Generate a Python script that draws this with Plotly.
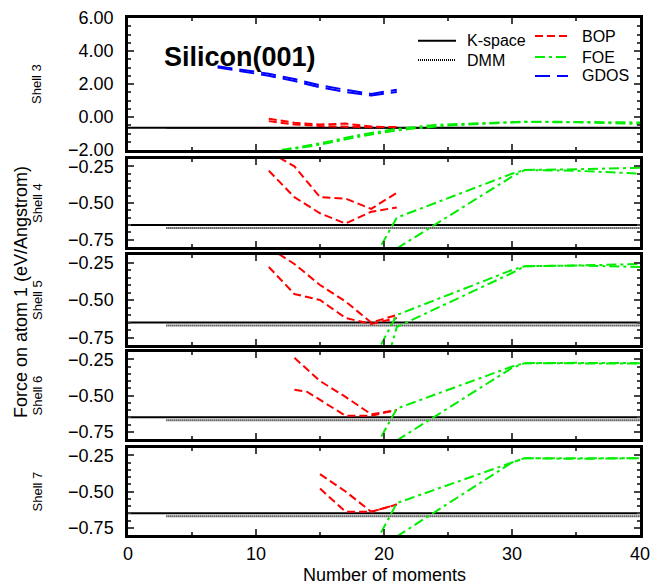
import plotly.graph_objects as go

# ---------------- data ----------------
shell_names = ["Shell 3", "Shell 4", "Shell 5", "Shell 6", "Shell 7"]

kspace_x = [0, 40]
kspace_force = [-0.65, -0.65]
dmm_x = [3, 40]
dmm_force = [-0.67, -0.67]

# Shell 3
gdos3_x = [7, 9, 11, 13, 15, 17, 19, 21]
gdos3_a = [3.08, 2.85, 2.62, 2.30, 1.92, 1.65, 1.40, 1.65]
gdos3_b = [3.00, 2.75, 2.50, 2.18, 1.80, 1.52, 1.30, 1.52]
bop3_xa = [11, 13, 15, 17, 19, 21]
bop3_a = [-0.10, -0.35, -0.45, -0.40, -0.58, -0.62]
bop3_xb = [11, 13, 15, 17, 19, 21]
bop3_b = [-0.25, -0.45, -0.55, -0.58, -0.62, -0.60]
foe3_xa = [12, 15, 18, 20, 21, 24, 28, 31, 35, 40]
foe3_a = [-2.00, -1.60, -1.10, -0.85, -0.72, -0.48, -0.35, -0.28, -0.30, -0.33]
foe3_xb = [12, 15, 18, 20, 22, 25, 28, 31, 35, 40]
foe3_b = [-2.05, -1.68, -1.20, -0.93, -0.72, -0.52, -0.40, -0.30, -0.32, -0.42]

# Shell 4
bop4_xa = [11, 13, 15, 17, 19, 21]
bop4_a = [-0.15, -0.25, -0.46, -0.47, -0.54, -0.43]
bop4_xb = [11, 13, 15, 17, 19, 21]
bop4_b = [-0.28, -0.46, -0.57, -0.64, -0.56, -0.53]
foe4_xa = [19, 21, 30, 31, 35, 40]
foe4_a = [-0.91, -0.60, -0.30, -0.275, -0.27, -0.26]
foe4_xb = [21, 30, 31, 35, 40]
foe4_b = [-0.81, -0.32, -0.275, -0.28, -0.30]

# Shell 5
bop5_xa = [11, 13, 15, 17, 19, 21]
bop5_a = [-0.15, -0.26, -0.40, -0.51, -0.65, -0.60]
bop5_xb = [11, 13, 15, 17, 19, 21]
bop5_b = [-0.28, -0.46, -0.50, -0.62, -0.66, -0.62]
foe5_xa = [19, 21, 30, 31, 35, 40]
foe5_a = [-0.92, -0.60, -0.30, -0.275, -0.27, -0.26]
foe5_xb = [20, 21, 30, 31, 35, 40]
foe5_b = [-0.98, -0.68, -0.32, -0.275, -0.27, -0.28]

# Shell 6
bop6_xa = [13, 15, 17, 19, 21]
bop6_a = [-0.24, -0.40, -0.51, -0.63, -0.60]
bop6_xb = [13, 14, 17, 19, 21]
bop6_b = [-0.46, -0.475, -0.64, -0.64, -0.60]
foe6_xa = [19, 21, 30, 31, 35, 40]
foe6_a = [-0.91, -0.59, -0.30, -0.277, -0.275, -0.277]
foe6_xb = [21, 30, 31, 35, 40]
foe6_b = [-0.81, -0.31, -0.277, -0.28, -0.28]

# Shell 7
bop7_xa = [15, 17, 19, 21]
bop7_a = [-0.38, -0.50, -0.64, -0.59]
bop7_xb = [15, 17, 19, 21]
bop7_b = [-0.48, -0.64, -0.64, -0.59]
foe7_xa = [19, 21, 30, 31, 35, 40]
foe7_a = [-0.91, -0.58, -0.30, -0.27, -0.27, -0.27]
foe7_xb = [21, 30, 31, 35, 40]
foe7_b = [-0.81, -0.30, -0.27, -0.275, -0.27]

x_ticks = [0, 10, 20, 30, 40]
top_ticks = [6, 4, 2, 0, -2]
top_tick_labels = ["6.00", "4.00", "2.00", "0.00", "\u22122.00"]
lower_ticks = [-0.25, -0.50, -0.75]
lower_tick_labels = ["\u22120.25", "\u22120.50", "\u22120.75"]

# ---------------- styles ----------------
FONT = "Liberation Sans, Arial, Helvetica, sans-serif"
RED, GREEN, BLUE = "#ff0000", "#00ee00", "#0000ff"
BOP_DASH = "8px,4px"
FOE_DASH = "10px,4px,3px,4px"
GDOS_DASH = "15px,7px"
DMM_DASH = "1px,1px"
FRAME_W = 2.5

panels = [
    dict(bop=[(bop3_xa, bop3_a), (bop3_xb, bop3_b)], foe=[(foe3_xa, foe3_a), (foe3_xb, foe3_b)],
         gdos=[(gdos3_x, gdos3_a), (gdos3_x, gdos3_b)]),
    dict(bop=[(bop4_xa, bop4_a), (bop4_xb, bop4_b)], foe=[(foe4_xa, foe4_a), (foe4_xb, foe4_b)], gdos=[]),
    dict(bop=[(bop5_xa, bop5_a), (bop5_xb, bop5_b)], foe=[(foe5_xa, foe5_a), (foe5_xb, foe5_b)], gdos=[]),
    dict(bop=[(bop6_xa, bop6_a), (bop6_xb, bop6_b)], foe=[(foe6_xa, foe6_a), (foe6_xb, foe6_b)], gdos=[]),
    dict(bop=[(bop7_xa, bop7_a), (bop7_xb, bop7_b)], foe=[(foe7_xa, foe7_a), (foe7_xb, foe7_b)], gdos=[]),
]

# ---------------- layout geometry (page pixels; body margin removed below) ----------------
W, H = 651, 584
PL, PR, PT, PB = 128, 640, 18, 535          # plot area in page px
ML, MR, MT, MB = PL, W - PR, PT, H - PB
panel_px = [(18, 150), (159, 247), (255, 345), (352, 439), (448, 535)]


def py2paper(py):
    return (PB - py) / (PB - PT)


def px2paper(px):
    return (px - PL) / (PR - PL)


fig = go.Figure()

for i, p in enumerate(panels):
    xa = "x" if i == 0 else f"x{i+1}"
    ya = "y" if i == 0 else f"y{i+1}"
    fig.add_trace(go.Scatter(x=kspace_x, y=kspace_force, mode="lines", xaxis=xa, yaxis=ya,
                             line=dict(color="black", width=2), name="K-space"))
    fig.add_trace(go.Scatter(x=dmm_x, y=dmm_force, mode="lines", xaxis=xa, yaxis=ya,
                             line=dict(color="black", width=2, dash=DMM_DASH), name="DMM"))
    for (xx, yy) in p["bop"]:
        fig.add_trace(go.Scatter(x=xx, y=yy, mode="lines", xaxis=xa, yaxis=ya,
                                 line=dict(color=RED, width=2, dash=BOP_DASH), name="BOP"))
    for (xx, yy) in p["foe"]:
        fig.add_trace(go.Scatter(x=xx, y=yy, mode="lines", xaxis=xa, yaxis=ya,
                                 line=dict(color=GREEN, width=2, dash=FOE_DASH), name="FOE"))
    for (xx, yy) in p["gdos"]:
        fig.add_trace(go.Scatter(x=xx, y=yy, mode="lines", xaxis=xa, yaxis=ya,
                                 line=dict(color=BLUE, width=2, dash=GDOS_DASH), name="GDOS"))

layout = dict(
    width=W, height=H, autosize=False,
    margin=dict(l=ML, r=MR, t=MT, b=MB, pad=0, autoexpand=False),
    plot_bgcolor="white", paper_bgcolor="white",
    showlegend=False,
    font=dict(family=FONT, size=18, color="black"),
)

for i in range(5):
    top, bot = panel_px[i]
    xkey = "xaxis" if i == 0 else f"xaxis{i+1}"
    ykey = "yaxis" if i == 0 else f"yaxis{i+1}"
    ya = "y" if i == 0 else f"y{i+1}"
    xa = "x" if i == 0 else f"x{i+1}"
    layout[xkey] = dict(
        domain=[0, 1], anchor=ya, range=[0, 40], tickvals=x_ticks,
        showticklabels=(i == 4), ticks="inside", ticklen=6, tickwidth=1.5,
        minor=dict(dtick=5, ticks="inside", ticklen=3, tickwidth=1.5),
        showline=True, linewidth=FRAME_W, linecolor="black", mirror="allticks",
        showgrid=False, zeroline=False, ticklabelstandoff=1, automargin=False,
        ticklabeloverflow="allow", tickfont=dict(size=18),
    )
    if i > 0:
        layout[xkey]["matches"] = "x"
    if i == 0:
        yr = [-2, 6]
        tv, tt = top_ticks, top_tick_labels
        mdt = 0.5
    else:
        yr = [-0.8, -0.2]
        tv, tt = lower_ticks, lower_tick_labels
        mdt = 0.05
    layout[ykey] = dict(
        domain=[py2paper(bot), py2paper(top)], anchor=xa, range=yr, tickvals=tv, ticktext=tt,
        ticks="inside", ticklen=6, tickwidth=1.5,
        minor=dict(dtick=mdt, ticks="inside", ticklen=3, tickwidth=1.5),
        showline=True, linewidth=FRAME_W, linecolor="black", mirror="allticks",
        showgrid=False, zeroline=False, ticklabelstandoff=8, automargin=False,
        ticklabeloverflow="allow", tickfont=dict(size=18),
    )

fig.update_layout(**layout)

annotations = []
# shell labels
for i, name in enumerate(shell_names):
    top, bot = panel_px[i]
    annotations.append(dict(text=name, x=px2paper(37), y=py2paper((top + bot) / 2),
                            xref="paper", yref="paper", showarrow=False, textangle=-90,
                            font=dict(size=13), xanchor="center", yanchor="middle"))
# y title
annotations.append(dict(text="Force on atom 1 (eV/Angstrom)", x=px2paper(21), y=py2paper(292),
                        xref="paper", yref="paper", showarrow=False, textangle=-90,
                        font=dict(size=18), xanchor="center", yanchor="middle"))
# x title
annotations.append(dict(text="Number of moments", x=px2paper(384), y=py2paper(575),
                        xref="paper", yref="paper", showarrow=False,
                        font=dict(size=18), xanchor="center", yanchor="middle"))
# panel title
annotations.append(dict(text="<b>Silicon(001)</b>", x=px2paper(240), y=py2paper(57),
                        xref="paper", yref="paper", showarrow=False,
                        font=dict(size=27), xanchor="center", yanchor="middle"))

# legend (manual, two columns)
legend_items = [
    ("K-space", "black", "solid", 418, 456, 40.7, 465),
    ("DMM", "black", DMM_DASH, 418, 456, 60, 465),
    ("BOP", RED, BOP_DASH, 535, 568, 36, 580),
    ("FOE", GREEN, FOE_DASH, 535, 568, 57, 580),
    ("GDOS", BLUE, GDOS_DASH, 535, 568, 76, 580),
]
shapes = []
for name, col, dash, x0, x1, yy, tx in legend_items:
    shapes.append(dict(type="line", xref="paper", yref="paper",
                       x0=px2paper(x0), x1=px2paper(x1), y0=py2paper(yy), y1=py2paper(yy),
                       line=dict(color=col, width=2, dash=dash)))
    annotations.append(dict(text=name, x=px2paper(tx), y=py2paper(yy), xref="paper", yref="paper",
                            showarrow=False, font=dict(size=16), xanchor="left", yanchor="middle"))

fig.update_layout(annotations=annotations, shapes=shapes)

fig.write_html("out.html",
               config={"displayModeBar": False},
               post_script="document.body.style.margin='0px';"
                           "document.body.style.padding='0px';"
                           "document.documentElement.style.overflow='hidden';")
